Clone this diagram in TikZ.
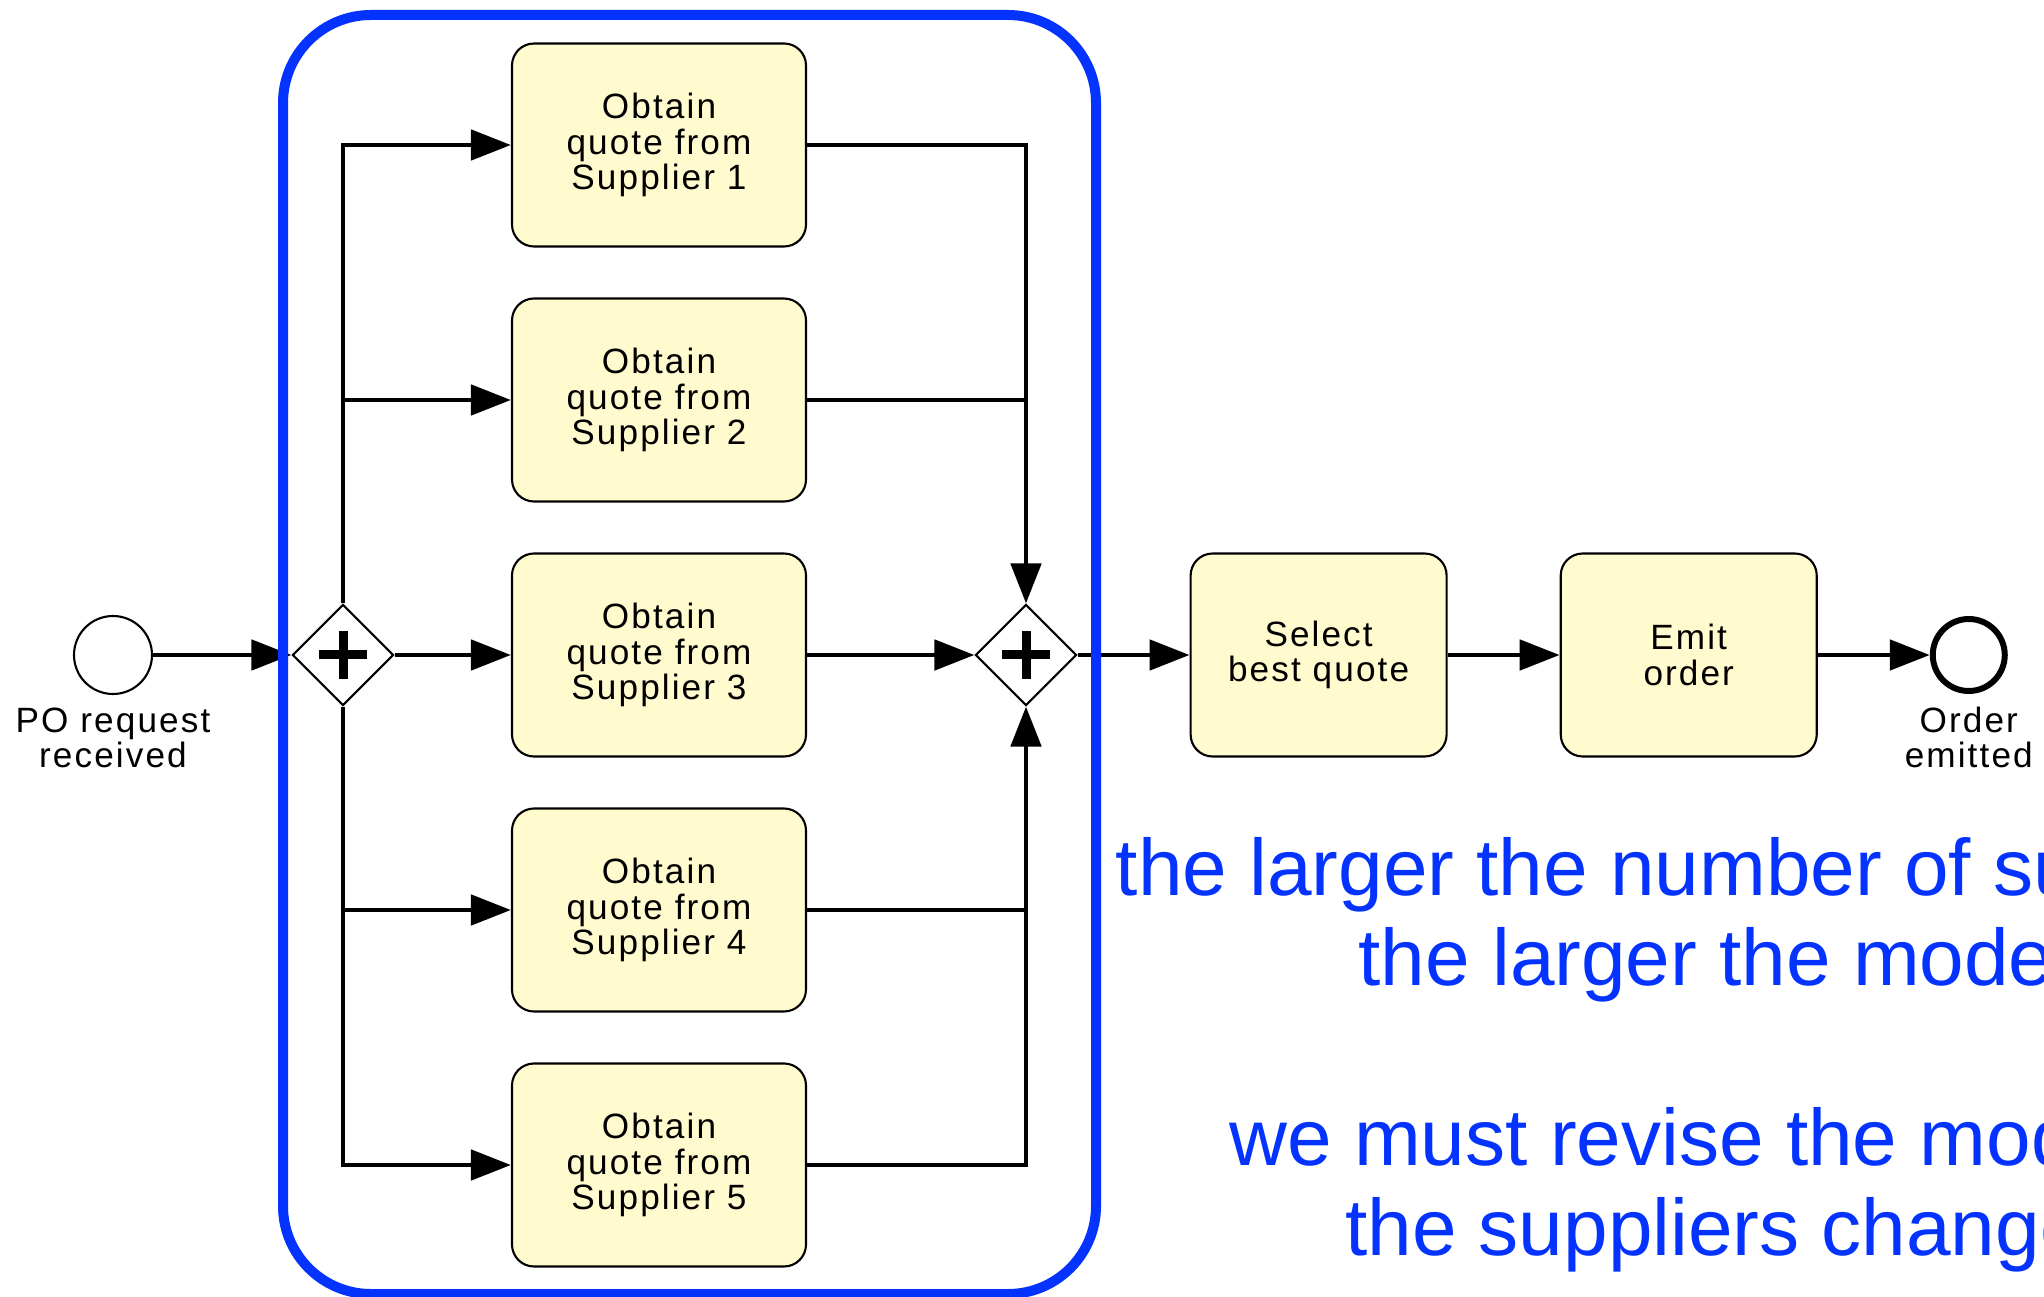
\documentclass[tikz,border=0pt]{standalone}
\usepackage{fontspec}
\setmainfont{Liberation Sans}
\newfontfamily\bpmnfont[LetterSpace=6]{Liberation Sans}
\usepackage{tikz}
\usetikzlibrary{arrows.meta,positioning,shapes.geometric}
\definecolor{taskyellow}{RGB}{255,251,206}
\definecolor{noteblue}{RGB}{4,51,255}
\tikzset{
    task/.style={rectangle, draw, fill=taskyellow, line width=0.6pt, rounded corners=2.2mm,
                 minimum width=#1, minimum height=2.03cm, align=center, inner sep=0pt,
                 font=\bpmnfont\fontsize{10pt}{10.1pt}\selectfont},
    task/.default=2.94cm,
    gw/.style={diamond, draw, fill=white, line width=0.6pt, minimum width=1.01cm,
               minimum height=1.01cm, inner sep=0pt,
               path picture={\draw[line width=0.9mm]
                   ([xshift=-2.4mm]path picture bounding box.center) -- ([xshift=2.4mm]path picture bounding box.center)
                   ([yshift=-2.4mm]path picture bounding box.center) -- ([yshift=2.4mm]path picture bounding box.center);}},
    evt/.style={circle, draw, fill=white, minimum size=0.78cm, inner sep=0pt, line width=0.6pt},
    endevt/.style={evt, minimum size=0.72cm, line width=1.7pt},
    lbl/.style={font=\bpmnfont\fontsize{10pt}{10.1pt}\selectfont, align=center, inner sep=0pt},
    flow/.style={-{Triangle[length=4mm,width=3mm]}, line width=1.4pt},
    seg/.style={line width=1.4pt},
    note/.style={text=noteblue, font=\fontsize{22.8pt}{25.6pt}\selectfont, align=center, inner sep=0pt},
}

\begin{document}
\begin{tikzpicture}[node distance=1.12cm]
    \useasboundingbox (0,0) rectangle (20.44,-12.97);
    \clip (0,0) rectangle (20.44,-12.97);

    \node[evt] (start) at (1.13,-6.55) {};
    \node[lbl, below=1.2mm of start] (startlbl) {PO request\\received};
    \node[gw] (split) at (3.43,-6.55) {};
    \foreach \i in {1,...,5}
        \node[task] (q\i) at (6.59,{-1.45-2.55*(\i-1)}) {Obtain\\quote from\\Supplier \i};
    \node[gw] (join) at (10.26,-6.55) {};
    \node[task=2.56cm, right=of join] (select) {Select\\best quote};
    \node[task=2.56cm, right=of select] (emit) {Emit\\order};
    \node[endevt, right=of emit] (done) {};
    \node[lbl, below=1.2mm of done] (donelbl) {Order\\emitted};

    % split
    \draw[flow] (start) -- (split);
    \draw[flow] (split.north) |- (q1);
    \draw[flow] (split.north |- q2) -- (q2);
    \draw[flow] (split) -- (q3);
    \draw[flow] (split.south |- q4) -- (q4);
    \draw[flow] (split.south) |- (q5);

    % join
    \draw[flow] (q1) -| (join.north);
    \draw[seg] (q2) -- (q2 -| join.north);
    \draw[flow] (q3) -- (join);
    \draw[seg] (q4) -- (q4 -| join.south);
    \draw[flow] (q5) -| (join.south);

    \draw[flow] (join) -- (select);
    \draw[flow] (select) -- (emit);
    \draw[flow] (emit) -- (done);

    % parallel block
    \draw[noteblue, line width=1mm, rounded corners=8.8mm] (2.83,-0.15) rectangle (10.96,-12.94);

    \node[note] (note) at (17.15,-10.55) {the larger the number of suppliers\\the larger the model\\[25.6pt]we must revise the model if\\the suppliers change};
\end{tikzpicture}
\end{document}
